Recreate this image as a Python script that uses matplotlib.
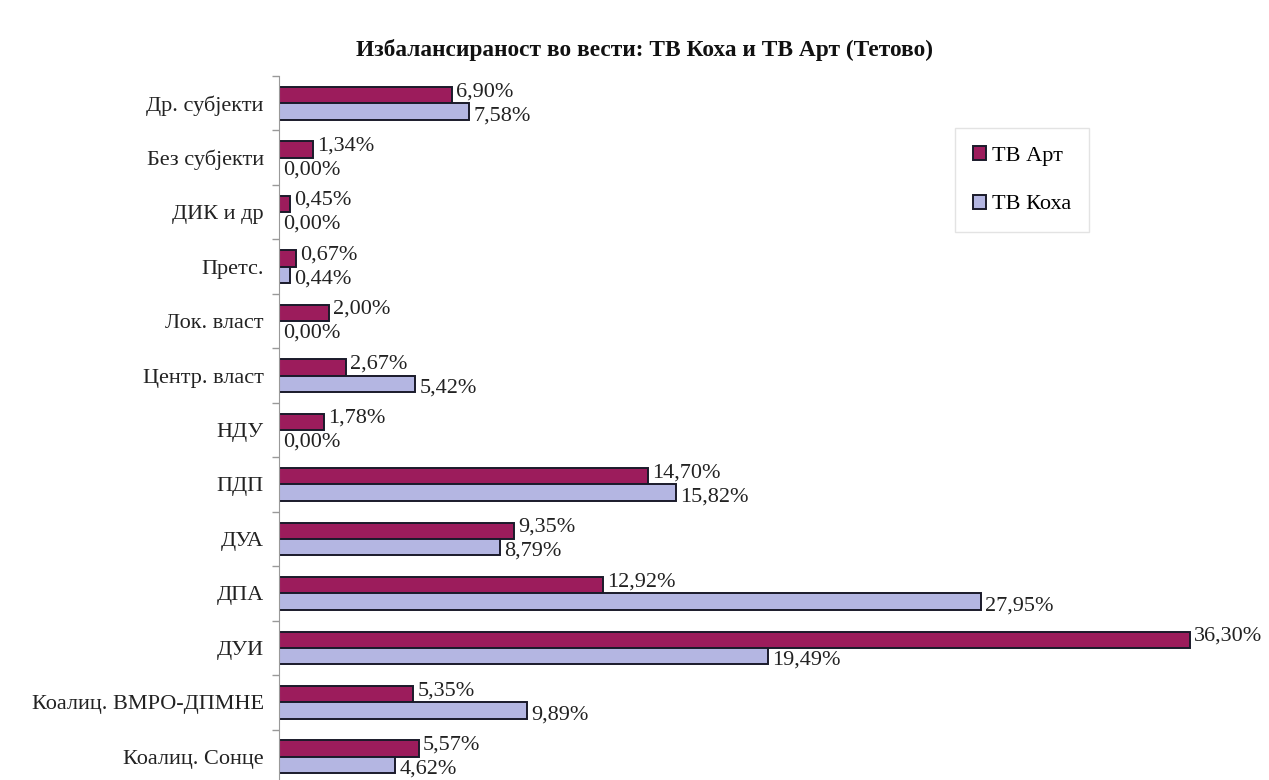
import numpy as np
import matplotlib.pyplot as plt
from matplotlib.ticker import FixedLocator, NullFormatter

plt.rcParams["font.family"] = ["Liberation Serif", "DejaVu Serif"]

categories = [
    "Др. субјекти", "Без субјекти", "ДИК и др", "Претс.", "Лок. власт",
    "Центр. власт", "НДУ", "ПДП", "ДУА", "ДПА", "ДУИ",
    "Коалиц. ВМРО-ДПМНЕ", "Коалиц. Сонце",
]
tv_art = [6.90, 1.34, 0.45, 0.67, 2.00, 2.67, 1.78, 14.70, 9.35, 12.92, 36.30, 5.35, 5.57]
tv_koha = [7.58, 0.00, 0.00, 0.44, 0.00, 5.42, 0.00, 15.82, 8.79, 27.95, 19.49, 9.89, 4.62]

W, H = 1269, 780
fig = plt.figure(figsize=(W / 100, H / 100), dpi=100)
fig.patch.set_facecolor("white")

# axes placed in pixel terms; bottom row runs slightly past the figure edge
left, top, bottom = 279, 76, 784
ax = fig.add_axes([left / W, 1 - bottom / H, (W - left) / W, (bottom - top) / H])

px_per_pct = 25.1
ax.set_xlim(0, (W - left) / px_per_pct)
n = len(categories)
ax.set_ylim(n - 0.5, -0.5)

y = np.arange(n)
h = 0.30
c_art = "#9c1c5c"
c_koha = "#b4b6e2"
b1 = ax.barh(y - h / 2, tv_art, height=h, color=c_art, edgecolor="#1a1a2a",
             linewidth=1.4, label="ТВ Арт")
b2 = ax.barh(y + h / 2, tv_koha, height=h, color=c_koha, edgecolor="#1a1a2a",
             linewidth=1.4, label="ТВ Коха")

fmt = lambda v: f"{v:.2f}".replace(".", ",") + "%"
# nudge the two labels of a pair apart so they don't collide
for bars, vals, dy in ((b1, tv_art, 2.5), (b2, tv_koha, -3)):
    for rect, v in zip(bars, vals):
        ax.annotate(fmt(v), (rect.get_width(), rect.get_y() + rect.get_height() / 2),
                    xytext=(3, dy), textcoords="offset points",
                    va="center", ha="left", fontsize=16, color="#222222")

ax.set_yticks(y)
ax.set_yticklabels(categories, fontsize=16, color="#222222")
ax.tick_params(axis="y", which="major", length=0, pad=11)
ax.yaxis.set_minor_locator(FixedLocator(np.arange(-0.5, n, 1.0)))
ax.yaxis.set_minor_formatter(NullFormatter())
ax.tick_params(axis="y", which="minor", length=5, color="#999999", width=1)
ax.set_xticks([])
for s in ("top", "right", "bottom"):
    ax.spines[s].set_visible(False)
ax.spines["left"].set_color("#999999")

fig.text(645 / W, 1 - 50 / H, "Избалансираност во вести: ТВ Коха и ТВ Арт (Тетово)",
         ha="center", va="center", fontsize=16.8, fontweight="bold", color="#111111")

leg = ax.legend(loc="upper left", bbox_to_anchor=(955 / W, 1 - 128 / H),
                bbox_transform=fig.transFigure, fontsize=16, frameon=True,
                fancybox=False, handlelength=0.6, handleheight=0.6,
                handletextpad=0.25, labelspacing=1.3, borderpad=0.8,
                borderaxespad=0)
leg.get_frame().set_edgecolor("#dddddd")
leg.get_frame().set_linewidth(1.0)

fig.savefig("out.png", dpi=100, facecolor="white")
